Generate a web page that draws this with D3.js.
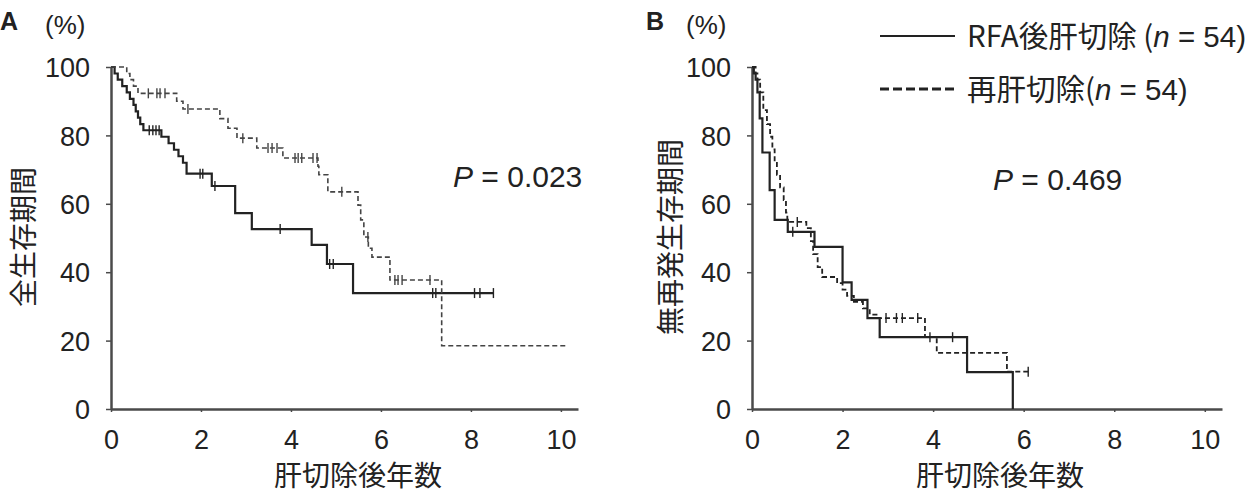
<!DOCTYPE html>
<html>
<head>
<meta charset="utf-8">
<script src="https://cdn.jsdelivr.net/npm/d3@7/dist/d3.min.js"></script>
<style>
  body { margin: 0; background: #fff; }
  text { font-family: "Liberation Sans", Arial, sans-serif; fill: #222; }
  .jp { font-family: "Noto Sans CJK JP", sans-serif; }
</style>
</head>
<body>
<div id="my_dataviz"></div>
<script>
// A: overall survival (years after hepatectomy, %)
var aRfaTimes = [0, 0.08, 0.15, 0.25, 0.35, 0.42, 0.5, 0.55, 0.6, 0.65, 0.72, 1.12, 1.28, 1.4, 1.5, 1.6, 1.68, 2.24, 2.76, 3.13, 4.46, 4.8, 5.38, 8.5];
var aRfaSurv  = [100, 98.1, 96.3, 94.4, 92.6, 90.7, 88.9, 87.0, 85.2, 83.3, 81.5, 79.6, 77.7, 75.8, 73.9, 72.0, 68.8, 65.2, 57.3, 52.6, 48.0, 42.4, 33.9, 33.9];
var aRfaCensor = [0.85, 0.93, 1.0, 1.07, 1.98, 2.04, 2.31, 3.76, 4.86, 4.94, 7.15, 7.22, 8.08, 8.2, 8.5];

var aReTimes = [0, 0.35, 0.42, 0.5, 0.6, 1.46, 1.6, 2.42, 2.6, 2.8, 3.24, 3.82, 4.6, 4.62, 4.82, 5.49, 5.55, 5.62, 5.72, 5.8, 6.2, 7.35, 10.15];
var aReSurv  = [100, 98.1, 96.3, 94.4, 92.3, 90.0, 87.7, 84.9, 82.1, 79.2, 76.3, 73.4, 71.0, 68.5, 63.5, 59.6, 55.3, 50.3, 47.0, 44.4, 37.7, 18.5, 18.5];
var aReCensor = [0.83, 1.02, 1.09, 1.2, 1.71, 2.93, 3.49, 3.58, 3.69, 4.09, 4.16, 4.24, 4.49, 4.58, 5.13, 5.71, 6.31, 6.38, 6.47, 7.09];

// B: recurrence-free survival
var bRfaTimes = [0, 0.04, 0.08, 0.12, 0.17, 0.23, 0.39, 0.5, 0.79, 1.38, 2.0, 2.2, 2.55, 2.82, 4.75, 5.76];
var bRfaSurv  = [100, 98.1, 96.3, 92.6, 85.0, 75.0, 64.0, 55.3, 51.8, 47.4, 37.0, 31.9, 26.6, 21.0, 10.8, 0];
var bRfaCensor = [0.9, 3.93, 4.43];

var bReTimes = [0, 0.08, 0.12, 0.18, 0.25, 0.33, 0.4, 0.45, 0.5, 0.55, 0.62, 0.7, 0.75, 0.78, 1.2, 1.3, 1.35, 1.45, 1.55, 1.88, 2.0, 2.1, 2.25, 2.45, 2.6, 2.75, 3.82, 4.08, 5.63, 6.1];
var bReSurv  = [100, 98.1, 96.3, 92.6, 87.4, 83.3, 79.6, 75.9, 72.2, 68.5, 64.8, 61.1, 57.4, 54.7, 52.9, 49.1, 45.3, 41.5, 38.6, 36.8, 34.9, 33.1, 31.3, 29.4, 27.6, 26.6, 21.0, 16.4, 10.9, 10.9];
var bReCensor = [1.0, 2.96, 3.19, 3.32, 3.66, 6.1];

var xTicks = [0, 2, 4, 6, 8, 10];
var yTicks = [0, 20, 40, 60, 80, 100];
var legendLabels = ["RFA後肝切除 (", "再肝切除("];

var svg = d3.select("#my_dataviz")
  .append("svg")
    .attr("width", 1254)
    .attr("height", 499);

// value of a step curve at time t
function survAt(times, surv, t) {
  var v = surv[0];
  for (var i = 0; i < times.length; i++) {
    if (times[i] <= t) v = surv[i];
  }
  return v;
}

function drawPanel(p) {
  var x = d3.scaleLinear().domain([0, 10.38]).range([p.left, p.right]);
  var y = d3.scaleLinear().domain([0, 100]).range([409, 67]);

  // axes
  var gx = svg.append("g")
    .attr("transform", "translate(0,409)")
    .call(d3.axisBottom(x).tickValues(xTicks).tickSize(3).tickSizeOuter(0).tickPadding(18));
  gx.selectAll("text").style("font-size", "27px");

  var gy = svg.append("g")
    .attr("transform", "translate(" + p.left + ",0)")
    .call(d3.axisLeft(y).tickValues(yTicks).tickSize(5).tickSizeOuter(0).tickPadding(16));
  gy.selectAll("text").style("font-size", "27px").attr("dy", "0.36em");

  svg.selectAll(".domain").attr("stroke", "#4a4a4a").attr("stroke-width", 2.5);
  svg.selectAll(".tick line").attr("stroke", "#4a4a4a").attr("stroke-width", 1.5);

  var line = d3.line()
    .x(function(d) { return x(d[0]); })
    .y(function(d) { return y(d[1]); })
    .curve(d3.curveStepAfter);

  p.series.forEach(function(s) {
    var pts = s.times.map(function(t, i) { return [t, s.surv[i]]; });
    svg.append("path")
      .datum(pts)
      .attr("fill", "none")
      .attr("stroke", s.color)
      .attr("stroke-width", s.width)
      .attr("stroke-dasharray", s.dash)
      .attr("d", line);

    // censor ticks
    svg.selectAll(null)
      .data(s.censor)
      .join("line")
      .attr("x1", function(d) { return x(d); })
      .attr("x2", function(d) { return x(d); })
      .attr("y1", function(d) { return y(survAt(s.times, s.surv, d)) - 5; })
      .attr("y2", function(d) { return y(survAt(s.times, s.surv, d)) + 5; })
      .attr("stroke", s.color)
      .attr("stroke-width", 1.4);
  });

  // labels
  svg.append("text")
    .attr("x", p.letterX).attr("y", 30)
    .style("font-size", "25px").style("font-weight", "bold")
    .text(p.letter);
  svg.append("text")
    .attr("x", p.left - 66).attr("y", 34)
    .style("font-size", "26px")
    .text("(%)");
  svg.append("text")
    .attr("class", "jp")
    .attr("x", p.xLabelX).attr("y", 486)
    .attr("text-anchor", "middle")
    .style("font-size", "28px")
    .text("肝切除後年数");
  svg.append("text")
    .attr("class", "jp")
    .attr("transform", "translate(" + p.yLabelX + ",237) rotate(-90)")
    .attr("text-anchor", "middle")
    .style("font-size", "28px")
    .text(p.yLabel);

  var pt = svg.append("text")
    .attr("x", p.pX).attr("y", p.pY)
    .style("font-size", "30px");
  pt.append("tspan").style("font-style", "italic").text("P");
  pt.append("tspan").text(" = " + p.pValue);
}

drawPanel({
  left: 111, right: 578, letter: "A", letterX: 0,
  xLabelX: 358, yLabelX: 34, yLabel: "全生存期間",
  pX: 453, pY: 187, pValue: "0.023",
  series: [
    {times: aRfaTimes, surv: aRfaSurv, censor: aRfaCensor, color: "#222", width: 2.2, dash: null},
    {times: aReTimes, surv: aReSurv, censor: aReCensor, color: "#444", width: 1.6, dash: "5,3"}
  ]
});

drawPanel({
  left: 752, right: 1222, letter: "B", letterX: 646,
  xLabelX: 1000, yLabelX: 681, yLabel: "無再発生存期間",
  pX: 993, pY: 190, pValue: "0.469",
  series: [
    {times: bRfaTimes, surv: bRfaSurv, censor: bRfaCensor, color: "#222", width: 2.2, dash: null},
    {times: bReTimes, surv: bReSurv, censor: bReCensor, color: "#222", width: 1.8, dash: "5,3"}
  ]
});

// legend
var legendY = [36, 89];
var legendDash = [null, "9,4"];
legendLabels.forEach(function(lab, i) {
  svg.append("line")
    .attr("x1", 880).attr("x2", 955)
    .attr("y1", legendY[i]).attr("y2", legendY[i])
    .attr("stroke", "#222")
    .attr("stroke-width", i === 0 ? 2.2 : 3.2)
    .attr("stroke-dasharray", legendDash[i]);
  var t = svg.append("text")
    .attr("x", 967).attr("y", legendY[i] + 11)
    .style("font-size", "29.5px");
  t.append("tspan").attr("class", "jp").text(lab);
  t.append("tspan").style("font-style", "italic").text("n");
  t.append("tspan").text(" = 54)");
});
</script>
</body>
</html>
